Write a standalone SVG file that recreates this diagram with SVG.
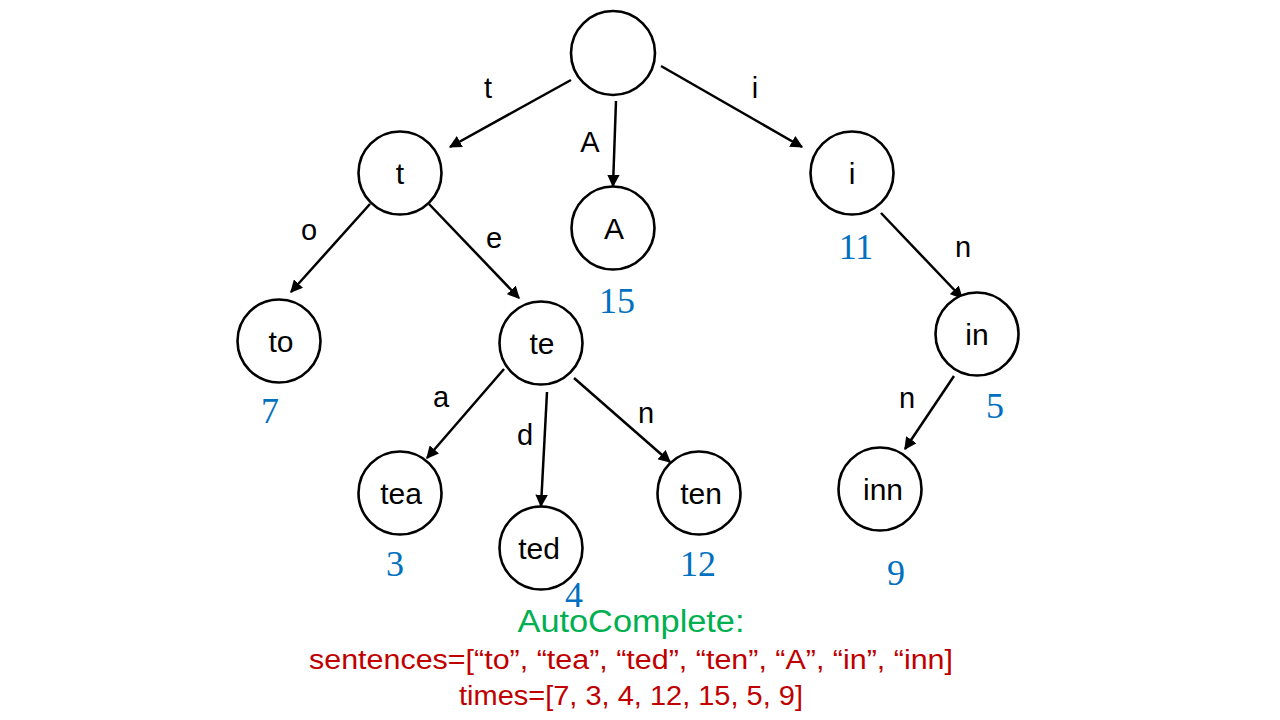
<svg xmlns="http://www.w3.org/2000/svg" width="1280" height="720" viewBox="0 0 1280 720">
<defs>
<marker id="arr" viewBox="0 0 10 10" refX="9" refY="5" markerWidth="5" markerHeight="5" orient="auto" markerUnits="strokeWidth">
<path d="M0,0 L10,5 L0,10 z" fill="#000"/>
</marker>
<style>
.n{fill:#fff;stroke:#000;stroke-width:2.6}
.nt{font-family:"Liberation Sans",Arial,sans-serif;font-size:30px;fill:#000;text-anchor:middle}
.el{font-family:"Liberation Sans",Arial,sans-serif;font-size:29px;fill:#000;text-anchor:middle}
.num{font-family:"Liberation Serif","Times New Roman",serif;font-size:36px;fill:#0070C0;text-anchor:middle}
.e{stroke:#000;stroke-width:2.5;fill:none;marker-end:url(#arr)}
.g{font-family:"Liberation Sans",Arial,sans-serif;font-size:31px;fill:#00B050;text-anchor:middle}
.r{font-family:"Liberation Sans",Arial,sans-serif;font-size:27px;fill:#C00000;text-anchor:middle}
</style>
</defs>
<rect width="1280" height="720" fill="#fff"/>
<g id="connectors">
<line class="e" x1="571" y1="80" x2="450" y2="147"/>
<line class="e" x1="616" y1="101" x2="613" y2="186"/>
<line class="e" x1="661" y1="66" x2="802" y2="147"/>
<line class="e" x1="370" y1="204" x2="291" y2="292"/>
<line class="e" x1="429" y1="204" x2="519" y2="298"/>
<line class="e" x1="504" y1="369" x2="427" y2="458"/>
<line class="e" x1="547" y1="392" x2="541" y2="506"/>
<line class="e" x1="574" y1="378" x2="670" y2="462"/>
<line class="e" x1="881" y1="213" x2="962" y2="298"/>
<line class="e" x1="954" y1="376" x2="905" y2="449"/>
</g>
<g id="edge-labels">
<text class="el" x="488" y="98">t</text>
<text class="el" x="590" y="152">A</text>
<text class="el" x="755" y="98">i</text>
<text class="el" x="309" y="240">o</text>
<text class="el" x="494" y="248">e</text>
<text class="el" x="441" y="407">a</text>
<text class="el" x="525" y="445">d</text>
<text class="el" x="646" y="423">n</text>
<text class="el" x="963" y="257">n</text>
<text class="el" x="907" y="408">n</text>
</g>
<g id="node-root"><circle class="n" cx="613" cy="53" r="42"/></g>
<g id="node-t"><circle class="n" cx="400" cy="173" r="41.5"/><text class="nt" x="400" y="184">t</text></g>
<g id="node-A"><circle class="n" cx="613" cy="228" r="41.5"/><text class="nt" x="614" y="239">A</text><text class="num" x="617" y="313">15</text></g>
<g id="node-i"><circle class="n" cx="852" cy="173" r="41.5"/><text class="nt" x="852" y="184">i</text><text class="num" x="856" y="259">11</text></g>
<g id="node-to"><circle class="n" cx="279" cy="341" r="41.5"/><text class="nt" x="281" y="352">to</text><text class="num" x="270" y="423">7</text></g>
<g id="node-te"><circle class="n" cx="541" cy="343" r="41.5"/><text class="nt" x="542" y="354">te</text></g>
<g id="node-tea"><circle class="n" cx="400" cy="493" r="41.5"/><text class="nt" x="401" y="504">tea</text><text class="num" x="395" y="576">3</text></g>
<g id="node-ted"><circle class="n" cx="541" cy="548" r="41.5"/><text class="nt" x="539" y="559">ted</text><text class="num" x="574" y="607">4</text></g>
<g id="node-ten"><circle class="n" cx="699" cy="493" r="41.5"/><text class="nt" x="701" y="504">ten</text><text class="num" x="698" y="576">12</text></g>
<g id="node-in"><circle class="n" cx="977" cy="334" r="41.5"/><text class="nt" x="977" y="345">in</text><text class="num" x="995" y="418">5</text></g>
<g id="node-inn"><circle class="n" cx="880" cy="489" r="41.5"/><text class="nt" x="883" y="500">inn</text><text class="num" x="896" y="585">9</text></g>
<g id="caption">
<text class="g" x="631" y="632" textLength="227" lengthAdjust="spacingAndGlyphs">AutoComplete:</text>
<text class="r" x="631" y="669" textLength="644" lengthAdjust="spacingAndGlyphs">sentences=[“to”, “tea”, “ted”, “ten”, “A”, “in”, “inn]</text>
<text class="r" x="631" y="705" textLength="344" lengthAdjust="spacingAndGlyphs">times=[7, 3, 4, 12, 15, 5, 9]</text>
</g>
</svg>
